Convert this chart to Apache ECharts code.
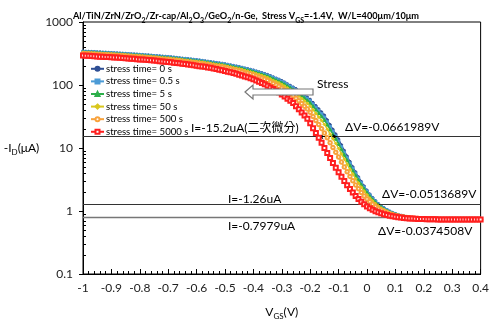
<!DOCTYPE html>
<html><head><meta charset="utf-8">
<script src="https://cdn.jsdelivr.net/npm/echarts@6/dist/echarts.min.js"></script>
<style>html,body{margin:0;padding:0;background:#fff}#c{width:492px;height:325px}</style>
</head><body><div id="c"></div>
<script>
const V = [-1,-0.99,-0.98,-0.97,-0.96,-0.95,-0.94,-0.93,-0.92,-0.91,
-0.9,-0.89,-0.88,-0.87,-0.86,-0.85,-0.84,-0.83,-0.82,-0.81,
-0.8,-0.79,-0.78,-0.77,-0.76,-0.75,-0.74,-0.73,-0.72,-0.71,
-0.7,-0.69,-0.68,-0.67,-0.66,-0.65,-0.64,-0.63,-0.62,-0.61,
-0.6,-0.59,-0.58,-0.57,-0.56,-0.55,-0.54,-0.53,-0.52,-0.51,
-0.5,-0.49,-0.48,-0.47,-0.46,-0.45,-0.44,-0.43,-0.42,-0.41,
-0.4,-0.39,-0.38,-0.37,-0.36,-0.35,-0.34,-0.33,-0.32,-0.31,
-0.3,-0.29,-0.28,-0.27,-0.26,-0.25,-0.24,-0.23,-0.22,-0.21,
-0.2,-0.19,-0.18,-0.17,-0.16,-0.15,-0.14,-0.13,-0.12,-0.11,
-0.1,-0.09,-0.08,-0.07,-0.06,-0.05,-0.04,-0.03,-0.02,-0.01,
0,0.01,0.02,0.03,0.04,0.05,0.06,0.07,0.08,0.09,
0.1,0.11,0.12,0.13,0.14,0.15,0.16,0.17,0.18,0.19,
0.2,0.21,0.22,0.23,0.24,0.25,0.26,0.27,0.28,0.29,
0.3,0.31,0.32,0.33,0.34,0.35,0.36,0.37,0.38,0.39,
0.4];

const t0 = [343,341,340,338,337,334,333,330,329,327,
325,323,321,319,317,315,313,311,309,307,
305,303,300,298,295,292,290,288,285,283,
281,278,275,272,269,265,263,260,257,254,
251,248,244,240,237,233,230,226,223,220,
216,212,207,203,199,195,190,185,181,176,
172,166,161,156,151,146,140,134,128,123,
117,111,104,98,92.5,87.1,80.5,74.5,68.9,63.7,
58.9,52.5,46.8,41.7,37.2,33.1,27.9,23.4,19.7,16.6,
13.8,11.2,9.10,7.42,6.08,5.01,4.16,3.47,2.92,2.48,
2.13,1.85,1.63,1.45,1.305,1.20,1.12,1.05,0.99,0.943,
0.905,0.873,0.848,0.826,0.809,0.795,0.783,0.774,0.766,0.759,
0.754,0.750,0.746,0.743,0.741,0.739,0.737,0.736,0.735,0.735,
0.734,0.734,0.733,0.733,0.733,0.732,0.732,0.732,0.731,0.731,
0.731];

const t05 = [340,338,337,335,334,331,330,327,326,324,
322,320,318,316,314,312,310,308,306,304,
302,300,297,295,292,289,287,285,282,280,
278,275,272,269,266,262,260,257,254,251,
248,245,241,237,234,230,227,223,220,217,
213,209,204,200,196,192,187,182,178,173,
169,163,158,153,148,142,137,131,125,120,
113,108,101,94.8,89.4,83.9,77.4,71.4,65.9,60.8,
55.9,49.6,44.1,39.2,34.8,30.8,25.9,21.8,18.3,15.4,
12.8,10.4,8.51,6.96,5.73,4.73,3.95,3.31,2.79,2.38,
2.06,1.79,1.59,1.42,1.28,1.18,1.10,1.04,0.980,0.935,
0.899,0.868,0.844,0.823,0.807,0.793,0.782,0.773,0.765,0.758,
0.753,0.749,0.746,0.743,0.741,0.739,0.737,0.736,0.735,0.735,
0.734,0.734,0.733,0.733,0.733,0.732,0.732,0.732,0.731,0.731,
0.731];

const t5 = [335,333,333,331,329,327,326,323,322,320,
318,316,314,312,310,308,305,304,302,300,
298,296,293,291,288,285,283,280,277,275,
273,270,268,265,262,258,255,252,249,246,
243,241,237,233,230,226,222,219,216,213,
208,204,200,195,191,188,183,177,173,169,
164,158,153,148,143,138,132,126,120,115,
109,103,96.4,90.7,85.3,79.7,73.3,67.5,62.1,57.1,
52.1,46.0,40.7,36.0,31.8,28.0,23.5,19.7,16.6,14.0,
11.6,9.51,7.78,6.40,5.28,4.39,3.68,3.10,2.63,2.26,
1.96,1.72,1.53,1.38,1.25,1.16,1.08,1.02,0.967,0.925,
0.891,0.862,0.839,0.819,0.803,0.790,0.780,0.771,0.764,0.757,
0.752,0.749,0.745,0.742,0.740,0.739,0.737,0.736,0.735,0.735,
0.734,0.734,0.733,0.733,0.733,0.732,0.732,0.732,0.731,0.731,
0.731];

const t50 = [328,326,325,323,322,319,318,315,315,313,
311,309,307,305,303,301,298,296,294,292,
290,288,285,283,281,278,276,273,270,268,
266,263,260,258,255,251,247,245,242,239,
236,233,230,226,223,219,215,211,209,206,
201,197,193,188,184,180,176,170,166,161,
157,151,146,141,136,131,124,118,113,108,
102,95.8,89.4,83.8,78.6,72.9,66.7,61.1,55.9,51.2,
46.1,40.4,35.4,31.1,27.2,23.7,19.9,16.6,14.0,11.8,
9.83,8.08,6.66,5.51,4.59,3.85,3.25,2.77,2.38,2.06,
1.80,1.60,1.44,1.31,1.20,1.11,1.05,0.993,0.945,0.908,
0.877,0.850,0.830,0.812,0.798,0.786,0.776,0.768,0.761,0.755,
0.751,0.748,0.745,0.742,0.740,0.738,0.737,0.736,0.735,0.735,
0.734,0.734,0.733,0.733,0.733,0.732,0.732,0.732,0.731,0.731,
0.731];

const t500 = [315,313,312,310,309,306,305,303,302,300,
298,296,294,293,291,289,285,283,281,279,
278,276,273,271,268,266,264,259,257,255,
253,250,248,245,242,239,234,231,229,226,
223,221,217,214,211,207,202,198,196,193,
188,184,180,175,171,168,163,157,153,149,
144,138,133,128,123,118,111,106,100,95.2,
89.2,83.6,77.7,72.5,67.6,61.8,56.0,50.8,46.1,41.7,
36.8,31.7,27.3,23.6,20.3,17.3,14.5,12.1,10.2,8.55,
7.18,5.97,4.98,4.18,3.54,3.02,2.59,2.25,1.96,1.73,
1.55,1.40,1.28,1.18,1.10,1.04,0.988,0.944,0.907,0.876,
0.852,0.830,0.813,0.800,0.787,0.778,0.770,0.762,0.757,0.752,
0.749,0.746,0.743,0.741,0.739,0.738,0.736,0.736,0.735,0.734,
0.734,0.733,0.733,0.733,0.732,0.732,0.732,0.731,0.731,0.731,
0.730];

const t5000 = [293,290,290,288,286,284,282,281,279,277,
275,274,272,270,268,267,264,262,260,257,
255,253,251,249,247,245,242,239,237,233,
231,229,226,224,221,218,215,211,209,205,
202,199,196,194,190,187,182,179,175,172,
167,163,159,155,151,146,142,137,133,128,
123,118,113,108,103,97.7,91.5,86.2,81.4,76.6,
70.8,65.6,60.6,56.1,51.8,46.2,41.2,36.7,32.7,29.1,
24.6,20.6,17.3,14.6,12.1,10.0,8.31,6.92,5.79,4.86,
4.11,3.49,2.98,2.57,2.23,1.96,1.73,1.55,1.40,1.278,
1.178,1.106,1.046,0.995,0.953,0.917,0.887,0.862,0.841,0.823,
0.808,0.796,0.785,0.777,0.769,0.763,0.758,0.753,0.749,0.746,
0.744,0.742,0.740,0.738,0.737,0.736,0.735,0.735,0.734,0.734,
0.733,0.733,0.733,0.732,0.732,0.732,0.731,0.731,0.731,0.730,
0.730];

const seriesNames = ['stress time= 0 s','stress time= 0.5 s','stress time= 5 s','stress time= 50 s','stress time= 500 s','stress time= 5000 s'];
const seriesValues = [t0, t05, t5, t50, t500, t5000];
const refLevels = [15.2, 1.26, 0.7979];
const deltaSegs = [[-0.171, -0.105, 15.2], [-0.007, 0.044, 1.26], [0.109, 0.147, 0.7979]];
const minorY = [0.2,0.3,0.4,0.5,0.6,0.7,0.8,0.9,2,3,4,5,6,7,8,9,20,30,40,50,60,70,80,90,200,300,400,500,600,700,800,900];

const colors = ['#2F4F94','#4C9BD6','#2DAF4A','#D9C71E','#F8A23C','#FF1F1F'];
const symbols = ['circle','rect','triangle','diamond','emptyCircle','emptyRect'];
const symSizes = [2.5,2.5,3,3,3.5,4];
const FONT = 'Lato, "Noto Sans CJK TC", sans-serif';

const series = seriesNames.map((n, k) => ({
  name: n, type: 'line', data: V.map((v, i) => [v, seriesValues[k][i]]),
  symbol: symbols[k], symbolSize: symSizes[k], showSymbol: true,
  lineStyle: { color: colors[k], width: 1.3 },
  itemStyle: { color: colors[k], borderColor: colors[k], borderWidth: 1 },
  z: 2 + k, animation: false
}));

series.push({
  name: 'refs', type: 'line', data: [], animation: false, silent: true,
  markLine: {
    silent: true, animation: false, symbol: 'none', label: { show: false },
    data: refLevels.map((y, i) => ({ yAxis: y, lineStyle: { color: i === 2 ? '#777' : '#333', width: i === 2 ? 1.3 : 1, type: 'solid' } }))
  }
});
series.push({
  name: 'deltas', type: 'line', data: [], animation: false, silent: true, z: 20,
  markLine: {
    silent: true, animation: false, symbol: ['arrow', 'arrow'], symbolSize: [4, 5], label: { show: false },
    lineStyle: { color: '#000', width: 1, type: 'solid' },
    data: deltaSegs.map(s => [{ coord: [s[0], s[2]] }, { coord: [s[1], s[2]] }])
  }
});

const txt = (x, y, s, extra) => ({ type: 'text', left: x, top: y, z: 100,
  style: Object.assign({ text: s, fill: '#000', font: '12px ' + FONT }, extra || {}) });

const chart = echarts.init(document.getElementById('c'), null, { renderer: 'canvas' });
chart.setOption({
  animation: false,
  backgroundColor: '#fff',
  title: {
    text: '{a|Al/TiN/ZrN/ZrO}{s|2}{a|/Zr-cap/Al}{s|2}{a|O}{s|3}{a|/GeO}{s|2}{a|/n-Ge,  Stress V}{s|GS}{a|=-1.4V,  W/L=400μm/10μm}',
    left: 'center', top: 4,
    textStyle: { rich: {
      a: { fontFamily: FONT, fontSize: 9.2, color: '#000', lineHeight: 15 },
      s: { fontFamily: FONT, fontSize: 7, color: '#000', lineHeight: 9, verticalAlign: 'bottom' }
    } }
  },
  legend: {
    orient: 'vertical', left: 85, top: 59, itemGap: 3, itemWidth: 13, itemHeight: 5,
    data: seriesNames, textStyle: { fontFamily: FONT, fontSize: 9.6, color: '#000', padding: [0,0,0,-3] },
    selectedMode: false
  },
  grid: { left: 83, right: 10, top: 22, bottom: 49, show: true, borderColor: '#000', borderWidth: 1, backgroundColor: 'transparent' },
  xAxis: {
    type: 'value', min: -1, max: 0.4, interval: 0.1,
    name: '{a|V}{s|GS}{a|(V)}', nameLocation: 'middle', nameGap: 30,
    nameTextStyle: { rich: {
      a: { fontFamily: FONT, fontSize: 12, color: '#000', lineHeight: 16 },
      s: { fontFamily: FONT, fontSize: 8, color: '#000', lineHeight: 10, verticalAlign: 'bottom' }
    } },
    axisLine: { onZero: false, lineStyle: { color: '#000', width: 1 } },
    axisTick: { inside: true, length: 5, lineStyle: { color: '#000' } },
    minorTick: { show: true, splitNumber: 5, length: 3, lineStyle: { color: '#000' } },
    splitLine: { show: false },
    axisLabel: { fontFamily: FONT, fontSize: 12, color: '#222', margin: 8,
      formatter: v => String(Number(v.toFixed(1))) }
  },
  yAxis: [{
    type: 'log', logBase: 10, min: 0.1, max: 1000,
    name: '{a|-I}{s|D}{a|(μA)}', nameLocation: 'middle', nameRotate: 0, nameGap: 32,
    nameTextStyle: { align: 'right', rich: {
      a: { fontFamily: FONT, fontSize: 12, color: '#000', lineHeight: 16 },
      s: { fontFamily: FONT, fontSize: 8, color: '#000', lineHeight: 10, verticalAlign: 'bottom' }
    } },
    axisLine: { show: true, onZero: false, lineStyle: { color: '#000', width: 1 } },
    axisTick: { show: true, inside: false, length: 4, lineStyle: { color: '#000' } },
    splitLine: { show: false },
    axisLabel: { fontFamily: FONT, fontSize: 12, color: '#222', margin: 10,
      formatter: v => String(v) }
  }, {
    type: 'log', logBase: 10, min: 0.1, max: 1000, position: 'left',
    axisLine: { show: false, onZero: false }, splitLine: { show: false },
    axisLabel: { show: false },
    axisTick: { show: true, inside: true, length: 3, customValues: minorY, lineStyle: { color: '#000' } }
  }],
  series: series,
  graphic: [
    { type: 'polygon', z: 50, shape: { points: [[245,92],[253,85],[253,89],[313,89],[313,95],[253,95],[253,99]] },
      style: { fill: '#fff', stroke: '#777', lineWidth: 1.2 } },
    txt(317, 78, 'Stress'),
    txt(191, 122, 'I=-15.2uA(二次微分)'),
    txt(345, 121, 'ΔV=-0.0661989V'),
    txt(228, 193, 'I=-1.26uA'),
    txt(382, 188, 'ΔV=-0.0513689V'),
    txt(228, 220, 'I=-0.7979uA'),
    txt(378, 225, 'ΔV=-0.0374508V')
  ]
});
</script></body></html>
